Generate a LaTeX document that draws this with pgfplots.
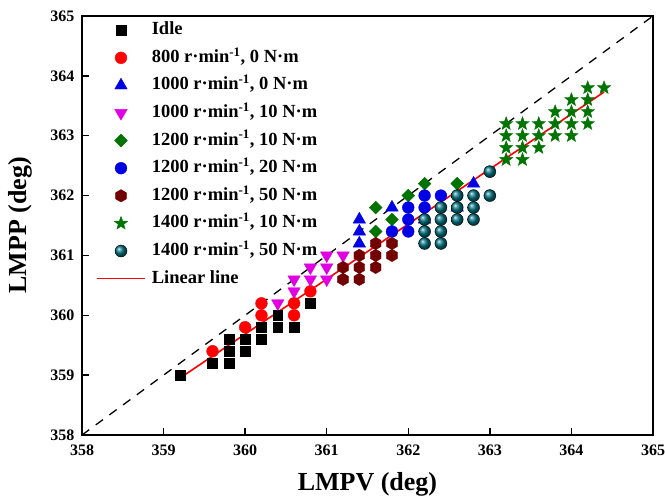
\documentclass[border=0pt]{standalone}
\usepackage{fontspec}
\setmainfont{Liberation Serif}
\usepackage{pgfplots}
\pgfplotsset{compat=1.18}
\usetikzlibrary{calc,plotmarks}

% filled hexagon mark
\pgfdeclareplotmark{hexagon*}{%
  \pgfpathmoveto{\pgfqpointpolar{90}{\pgfplotmarksize}}%
  \pgfpathlineto{\pgfqpointpolar{150}{\pgfplotmarksize}}%
  \pgfpathlineto{\pgfqpointpolar{210}{\pgfplotmarksize}}%
  \pgfpathlineto{\pgfqpointpolar{270}{\pgfplotmarksize}}%
  \pgfpathlineto{\pgfqpointpolar{330}{\pgfplotmarksize}}%
  \pgfpathlineto{\pgfqpointpolar{30}{\pgfplotmarksize}}%
  \pgfpathclose
  \pgfusepathqfillstroke}

% filled five-pointed star mark
\pgfdeclareplotmark{fstar}{%
  \pgfpathmoveto{\pgfpointpolar{90}{\pgfplotmarksize}}%
  \pgfpathlineto{\pgfpointpolar{126}{0.42\pgfplotmarksize}}%
  \pgfpathlineto{\pgfpointpolar{162}{\pgfplotmarksize}}%
  \pgfpathlineto{\pgfpointpolar{198}{0.42\pgfplotmarksize}}%
  \pgfpathlineto{\pgfpointpolar{234}{\pgfplotmarksize}}%
  \pgfpathlineto{\pgfpointpolar{270}{0.42\pgfplotmarksize}}%
  \pgfpathlineto{\pgfpointpolar{306}{\pgfplotmarksize}}%
  \pgfpathlineto{\pgfpointpolar{342}{0.42\pgfplotmarksize}}%
  \pgfpathlineto{\pgfpointpolar{18}{\pgfplotmarksize}}%
  \pgfpathlineto{\pgfpointpolar{54}{0.42\pgfplotmarksize}}%
  \pgfpathclose
  \pgfusepathqfillstroke}

\definecolor{cRed}{RGB}{255,0,0}
\definecolor{cBlue}{RGB}{0,0,230}
\definecolor{cMag}{RGB}{225,0,225}
\definecolor{cGreen}{RGB}{0,115,0}
\definecolor{cWine}{RGB}{115,0,0}
\definecolor{cTeal}{RGB}{0,115,130}

\begin{document}
\begin{tikzpicture}
\begin{axis}[
  scale only axis,
  width=571pt, height=419pt,
  xmin=358, xmax=365, ymin=358, ymax=365,
  xtick={358,...,365}, ytick={358,...,365},
  tick align=inside,
  xtick pos=bottom, ytick pos=left,
  major tick length=7pt,
  tick style={line width=1.4pt, black},
  axis line style={line width=1.8pt},
  /pgf/number format/assume math mode=true,
  /pgf/number format/1000 sep={},
  ticklabel style={font=\fontsize{16}{16}\selectfont\bfseries},
  xticklabel style={yshift=-6pt},
  yticklabel style={xshift=-4pt},
  xlabel={LMPV (deg)},
  ylabel={LMPP (deg)},
  label style={font=\fontsize{26}{26}\selectfont\bfseries},
  xlabel style={at={(axis description cs:0.5,-0.117)}, anchor=center},
  ylabel style={at={(axis description cs:-0.1086,0.5)}, anchor=center},
  legend cell align=left,
  legend image code/.code={%
    \draw[#1,mark repeat=2,mark phase=2] plot coordinates {(0pt,0pt) (24pt,0pt) (48pt,0pt)};},
  legend style={
    at={(rel axis cs:0,1)}, anchor=north west, xshift=14pt, yshift=-3.5pt,
    draw=none, fill=none, inner sep=0pt,
    font=\fontsize{18.5}{18.5}\selectfont\bfseries,
    row sep=6.6pt, column sep=4pt,
    nodes={inner sep=2pt, text height=13pt, text depth=4pt}},
]
% measured operating points
\addplot[only marks, mark=square*, mark size=4.9pt, color=black] coordinates {
 (359.2,359.0) (359.6,359.2) (359.8,359.2) (359.8,359.4) (359.8,359.6)
 (360.0,359.4) (360.0,359.6) (360.2,359.6) (360.2,359.8) (360.4,359.8)
 (360.4,360.0) (360.6,359.8) (360.8,360.2)};
\addlegendentry{Idle}
\addplot[only marks, mark=*, mark size=5.9pt, color=cRed] coordinates {
 (359.6,359.4) (360.0,359.8) (360.2,360.0) (360.2,360.2) (360.6,360.0)
 (360.6,360.2) (360.8,360.4)};
\addlegendentry{800 r·min\textsuperscript{-1}, 0 N·m}
\addplot[only marks, mark=triangle*, mark size=7.2pt, color=cBlue] coordinates {
 (361.4,361.2) (361.4,361.4) (361.4,361.6) (361.8,361.8) (362.2,361.6)
 (362.6,361.8) (362.8,362.2)};
\addlegendentry{1000 r·min\textsuperscript{-1}, 0 N·m}
\addplot[only marks, mark=triangle*, mark size=7.2pt, color=cMag, mark options={rotate=180}] coordinates {
 (360.4,360.2) (360.6,360.4) (360.6,360.6) (360.8,360.6) (360.8,360.8)
 (361.0,360.6) (361.0,360.8) (361.0,361.0) (361.2,361.0)};
\addlegendentry{1000 r·min\textsuperscript{-1}, 10 N·m}
\addplot[only marks, mark=square*, mark size=4.5pt, color=cGreen, mark options={rotate=45}] coordinates {
 (361.6,361.4) (361.6,361.8) (361.8,361.6) (362.0,362.0) (362.2,362.2)
 (362.6,362.2)};
\addlegendentry{1200 r·min\textsuperscript{-1}, 10 N·m}
\addplot[only marks, mark=*, mark size=5.9pt, color=cBlue] coordinates {
 (361.8,361.4) (362.0,361.4) (362.0,361.6) (362.0,361.8) (362.2,361.8)
 (362.2,362.0) (362.4,362.0)};
\addlegendentry{1200 r·min\textsuperscript{-1}, 20 N·m}
\addplot[only marks, mark=hexagon*, mark size=6.2pt, color=cWine] coordinates {
 (361.2,360.6) (361.2,360.8) (361.4,360.6) (361.4,360.8) (361.4,361.0)
 (361.6,360.8) (361.6,361.0) (361.6,361.2) (361.8,361.0) (361.8,361.2)};
\addlegendentry{1200 r·min\textsuperscript{-1}, 50 N·m}
\addplot[only marks, mark=fstar, mark size=7pt, color=cGreen] coordinates {
 (363.2,363.2) (363.2,363.0) (363.2,362.8) (363.2,362.6)
 (363.4,363.2) (363.4,363.0) (363.4,362.8) (363.4,362.6)
 (363.6,363.2) (363.6,363.0) (363.6,362.8)
 (363.8,363.4) (363.8,363.2) (363.8,363.0)
 (364.0,363.6) (364.0,363.4) (364.0,363.2) (364.0,363.0)
 (364.2,363.8) (364.2,363.6) (364.2,363.4) (364.2,363.2)
 (364.4,363.8)};
\addlegendentry{1400 r·min\textsuperscript{-1}, 10 N·m}
\addplot[only marks, mark=ball, mark size=6pt, mark options={ball color=cTeal}] coordinates {
 (362.2,361.2) (362.2,361.4) (362.2,361.6)
 (362.4,361.2) (362.4,361.4) (362.4,361.6) (362.4,361.8)
 (362.6,361.6) (362.6,361.8) (362.6,362.0)
 (362.8,361.6) (362.8,361.8) (362.8,362.0)
 (363.0,362.0) (363.0,362.4)};
\addlegendentry{1400 r·min\textsuperscript{-1}, 50 N·m}
% fitted line
\addplot[cRed, line width=1.6pt] coordinates {(359.2,358.95) (364.4,363.73)};
\addlegendentry{Linear line}
% reference diagonal LMPP = LMPV
\addplot[forget plot, black, line width=1.3pt, dash pattern=on 9pt off 8pt] coordinates {(358,358) (365,365)};
\end{axis}
\pgfresetboundingbox
\path ($(current axis.south west)+(-82pt,-67pt)$) rectangle ($(current axis.north east)+(12pt,16pt)$);
\end{tikzpicture}
\end{document}
